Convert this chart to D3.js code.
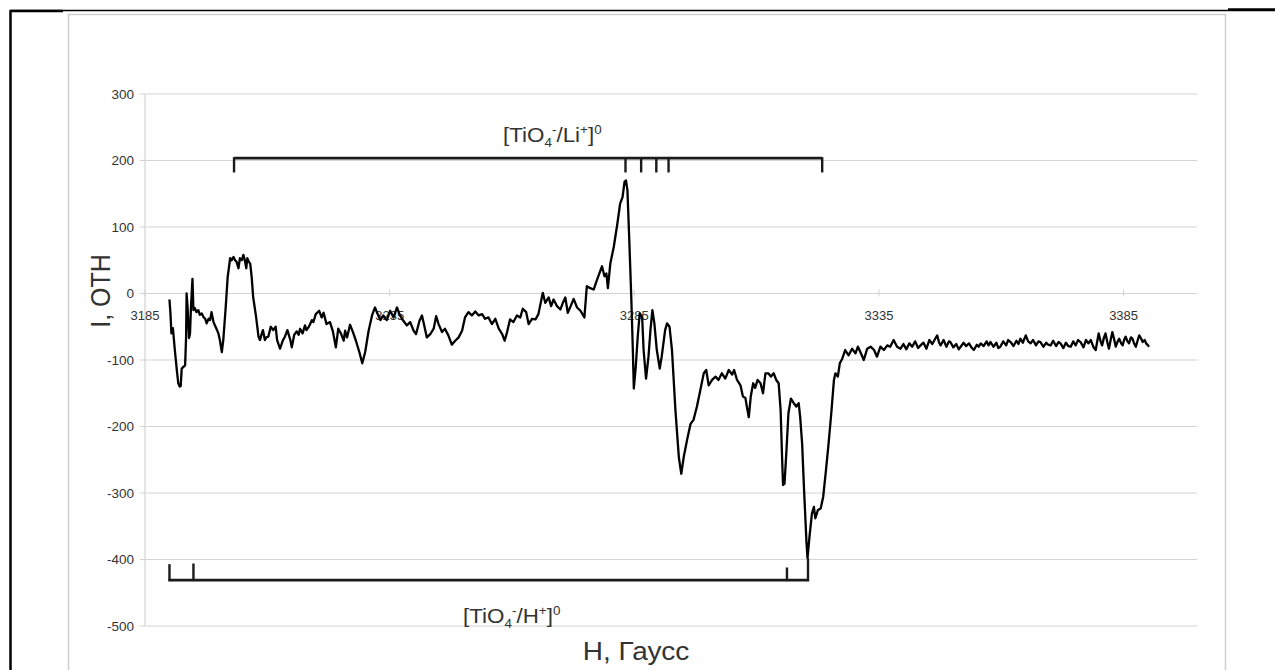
<!DOCTYPE html>
<html><head><meta charset="utf-8">
<script src="https://cdn.jsdelivr.net/npm/d3@7"></script>
<style>
html,body{margin:0;padding:0;background:#fff;}
svg{display:block;font-family:Arial,"Liberation Sans",sans-serif;}
</style></head><body>
<svg id="c" width="1275" height="670"></svg>
<script>
// ---- data ----
const xTicks = [3185, 3235, 3285, 3335, 3385];
const yTicks = [300, 200, 100, 0, -100, -200, -300, -400, -500];
const xTitle = "Н, Гаусс";
const yTitle = "I, ОТН";
// [TiO4-/Li+]0 bracket line positions (H, Gauss)
const liLines = [3203.2, 3283.2, 3286.4, 3289.5, 3292.0, 3323.4];
// [TiO4-/H+]0 bracket line positions (H, Gauss)
const hLines = [3190.0, 3194.9, 3316.2, 3320.5];
const hTickTops = [-407, -406, -412, -398];
// EPR spectrum: [H, I]
const spectrum = [
[3190.0,-9],[3190.2,-30],[3190.4,-60],[3190.7,-52],[3191.1,-85],[3191.5,-115],[3191.8,-135],[3192.1,-140],[3192.3,-139],[3192.5,-113],[3192.9,-110],[3193.2,-108],[3193.4,-65],[3193.5,0],[3193.7,-20],[3194.0,-67],[3194.2,-60],[3194.4,-20],[3194.7,22],[3194.9,-25],[3195.2,-22],[3195.5,-28],[3195.9,-25],[3196.2,-32],[3196.6,-30],[3197.0,-36],[3197.3,-38],[3197.6,-45],[3198.0,-38],[3198.3,-40],[3198.6,-28],[3199.0,-43],[3199.3,-48],[3199.6,-53],[3200.0,-60],[3200.3,-70],[3200.7,-88],[3201.0,-70],[3201.5,-20],[3201.9,25],[3202.4,53],[3202.7,50],[3203.1,55],[3203.4,50],[3203.7,48],[3204.1,38],[3204.4,53],[3204.8,50],[3205.1,58],[3205.4,50],[3205.7,38],[3205.9,53],[3206.2,48],[3206.5,45],[3206.8,25],[3207.1,-5],[3207.7,-35],[3208.2,-65],[3208.5,-70],[3208.8,-62],[3209.1,-55],[3209.5,-70],[3209.8,-66],[3210.2,-65],[3210.7,-50],[3211.2,-55],[3211.7,-50],[3212.0,-70],[3212.6,-83],[3213.2,-70],[3213.6,-65],[3214.1,-55],[3214.7,-70],[3215.0,-81],[3215.5,-62],[3216.0,-57],[3216.4,-62],[3216.7,-53],[3217.2,-60],[3217.7,-48],[3218.0,-55],[3218.4,-51],[3218.8,-45],[3219.1,-40],[3219.4,-43],[3219.9,-31],[3220.6,-26],[3221.1,-36],[3221.5,-29],[3222.1,-46],[3222.8,-43],[3223.4,-57],[3224.0,-81],[3224.5,-53],[3225.1,-61],[3225.6,-71],[3225.9,-56],[3226.3,-66],[3226.9,-47],[3227.5,-58],[3228.1,-71],[3228.8,-88],[3229.4,-105],[3230.0,-88],[3230.7,-56],[3231.4,-33],[3232.0,-21],[3232.5,-30],[3233.1,-40],[3233.7,-33],[3234.4,-40],[3235.1,-26],[3235.8,-36],[3236.5,-21],[3237.1,-33],[3237.8,-41],[3238.5,-48],[3239.2,-43],[3239.9,-56],[3240.4,-61],[3241.1,-41],[3241.6,-33],[3242.0,-46],[3242.6,-66],[3243.3,-61],[3244.0,-53],[3244.5,-34],[3245.0,-46],[3245.7,-58],[3246.3,-53],[3247.0,-63],[3247.7,-77],[3248.4,-71],[3249.1,-66],[3249.8,-56],[3250.4,-36],[3251.1,-28],[3251.8,-33],[3252.5,-27],[3253.2,-33],[3253.9,-31],[3254.5,-38],[3255.2,-36],[3255.9,-46],[3256.6,-38],[3257.3,-53],[3258.0,-61],[3258.5,-71],[3259.0,-58],[3259.6,-39],[3260.3,-43],[3261.0,-33],[3261.7,-36],[3262.2,-23],[3262.9,-28],[3263.4,-46],[3264.1,-38],[3264.8,-39],[3265.4,-31],[3266.3,1],[3266.8,-14],[3267.5,-6],[3268.0,-19],[3268.5,-9],[3269.2,-19],[3269.9,-24],[3270.4,-14],[3270.9,-6],[3271.4,-29],[3272.0,-19],[3272.6,-8],[3273.3,-21],[3274.0,-26],[3274.8,-36],[3275.3,11],[3276.0,8],[3276.7,6],[3277.3,19],[3277.9,31],[3278.4,41],[3278.9,26],[3279.3,30],[3279.6,8],
[3280.1,45],[3280.8,70],[3281.5,103],[3282.1,135],[3282.6,145],[3283.0,168],[3283.3,170],[3283.6,155],[3284.0,75],[3284.4,-10],[3284.7,-85],[3284.9,-143],[3285.3,-110],[3285.7,-65],[3286.1,-30],[3286.6,-35],[3286.9,-85],[3287.4,-128],[3287.9,-95],[3288.3,-55],[3288.7,-25],[3289.1,-45],[3289.6,-85],[3290.2,-113],[3290.6,-95],[3291.3,-55],[3291.7,-45],[3292.2,-50],[3292.7,-85],[3293.4,-175],[3294.1,-246],[3294.6,-271],[3295.1,-246],[3295.9,-216],[3296.5,-196],[3297.1,-190],[3297.8,-170],[3298.5,-145],[3299.2,-120],[3299.7,-115],[3300.2,-138],[3300.9,-130],[3301.6,-125],[3302.2,-130],[3302.9,-120],[3303.6,-128],[3304.3,-115],[3305.0,-122],[3305.4,-115],[3306.0,-130],[3306.7,-138],[3307.2,-155],[3307.7,-157],[3308.0,-170],[3308.4,-186],[3308.8,-155],[3309.3,-135],[3309.7,-142],[3310.2,-130],[3310.8,-135],[3311.3,-150],[3311.8,-120],[3312.4,-120],[3312.9,-125],[3313.5,-120],[3314.0,-130],[3314.5,-135],[3314.9,-175],[3315.2,-246],[3315.4,-288],[3315.7,-286],[3316.1,-236],[3316.5,-180],[3317.0,-158],[3317.6,-165],[3318.1,-170],[3318.6,-165],[3318.9,-186],[3319.3,-226],[3319.7,-296],[3320.2,-376],[3320.4,-398],[3320.8,-366],[3321.3,-331],[3321.7,-321],[3322.0,-338],[3322.5,-326],[3323.1,-323],[3323.6,-306],[3324.1,-271],[3324.7,-226],[3325.3,-176],[3325.8,-130],[3326.1,-120],[3326.6,-125],[3327.0,-105],[3327.5,-98],[3328.1,-85],[3328.8,-93],[3329.5,-83],[3330.2,-90],[3330.7,-80],[3331.2,-88],[3331.9,-100],[3332.6,-83],[3333.3,-80],[3334.0,-85],[3334.6,-95],[3335.3,-80],[3336.0,-85],[3336.7,-78],[3337.3,-80],[3338.0,-70],[3338.7,-80],[3339.4,-83],
[3340.0,-76],[3340.6,-84],[3341.2,-75],[3341.8,-80],[3342.4,-72],[3343.0,-82],[3343.5,-78],[3344.1,-74],[3344.7,-83],[3345.3,-70],[3345.9,-76],[3346.5,-68],[3346.9,-63],[3347.3,-74],[3347.6,-78],[3348.2,-70],[3348.8,-80],[3349.3,-72],[3349.6,-73],[3350.2,-81],[3350.8,-76],[3351.3,-84],[3351.7,-80],[3352.3,-74],[3352.8,-79],[3353.4,-75],[3354.0,-82],[3354.4,-85],[3355.0,-77],[3355.4,-80],[3355.8,-75],[3356.4,-79],[3357.0,-72],[3357.4,-78],[3357.8,-73],[3358.4,-80],[3359.0,-74],[3359.4,-82],[3359.8,-80],[3360.4,-72],[3361.0,-78],[3361.4,-70],[3361.9,-73],[3362.5,-79],[3363.1,-71],[3363.5,-76],[3363.9,-68],[3364.4,-74],[3365.0,-63],[3365.5,-72],[3366.0,-75],[3366.5,-70],[3367.1,-78],[3367.6,-72],[3368.0,-73],[3368.6,-80],[3369.2,-74],[3369.6,-77],[3370.1,-78],[3370.6,-71],[3371.2,-79],[3371.7,-73],[3372.1,-75],[3372.7,-82],[3373.2,-74],[3373.7,-79],[3374.2,-80],[3374.7,-72],[3375.2,-78],[3375.7,-70],[3376.2,-73],[3376.8,-81],[3377.3,-70],[3377.8,-75],[3378.3,-70],[3378.8,-80],[3379.3,-85],[3379.9,-60],[3380.3,-72],[3380.6,-78],[3381.0,-66],[3381.3,-60],[3381.7,-74],[3382.0,-83],[3382.4,-68],[3382.7,-58],[3383.1,-70],[3383.4,-80],[3383.8,-72],[3384.1,-68],[3384.5,-75],[3384.8,-78],[3385.1,-70],[3385.4,-65],[3385.8,-72],[3386.1,-75],[3386.5,-66],[3386.8,-68],[3387.2,-76],[3387.5,-80],[3387.9,-70],[3388.2,-63],[3388.6,-68],[3388.9,-73],[3389.3,-70],[3389.6,-75],[3390.0,-78],[3390.2,-80]
];

// ---- drawing ----
const svg = d3.select("#c");
const x = d3.scaleLinear().domain([3185, 3400]).range([145, 1197]);
const y = d3.scaleLinear().domain([-500, 300]).range([626, 94]);
const gridC = "#d3d3d3", txtC = "#333", inkC = "#1a1a1a";

// outer page lines (table cell)
svg.append("line").attr("x1",10).attr("x2",1275).attr("y1",10.5).attr("y2",10.5).attr("stroke","#000").attr("stroke-width",1.5);
svg.append("line").attr("x1",10).attr("x2",63).attr("y1",11).attr("y2",11).attr("stroke","#000").attr("stroke-width",2.5);
svg.append("line").attr("x1",1228).attr("x2",1275).attr("y1",9.5).attr("y2",9.5).attr("stroke","#000").attr("stroke-width",2.5);
svg.append("line").attr("x1",10.5).attr("x2",10.5).attr("y1",10).attr("y2",670).attr("stroke","#000").attr("stroke-width",2.5);
// chart frame
svg.append("rect").attr("x",68.5).attr("y",14.5).attr("width",1157).attr("height",700).attr("fill","none").attr("stroke","#cfcfcf").attr("stroke-width",1.5);

// gridlines
svg.append("g").selectAll("line").data(yTicks).join("line")
  .attr("x1",140).attr("x2",1197).attr("y1",d=>y(d)).attr("y2",d=>y(d))
  .attr("stroke",gridC).attr("stroke-width",1.2);
// y axis line
svg.append("line").attr("x1",145).attr("x2",145).attr("y1",y(300)).attr("y2",y(-500)).attr("stroke",gridC).attr("stroke-width",1.2);
// x ticks (on zero line)
svg.append("g").selectAll("line").data(xTicks).join("line")
  .attr("x1",d=>x(d)).attr("x2",d=>x(d)).attr("y1",y(0)-4).attr("y2",y(0)+3)
  .attr("stroke",gridC).attr("stroke-width",1);

// y tick labels
svg.append("g").selectAll("text").data(yTicks).join("text")
  .attr("x",134).attr("y",d=>y(d)).attr("dy","0.35em").attr("text-anchor","end")
  .attr("font-size",13.5).attr("fill",txtC).text(d=>d);
// x tick labels
svg.append("g").selectAll("text").data(xTicks).join("text")
  .attr("x",d=>x(d)).attr("y",y(0)+26).attr("text-anchor","middle")
  .attr("font-size",13).attr("fill",txtC).text(d=>d);

// spectrum line
const line = d3.line().x(d=>x(d[0])).y(d=>y(d[1]));
svg.append("path").datum(spectrum).attr("d",line).attr("fill","none")
  .attr("stroke","#000").attr("stroke-width",2.3).attr("stroke-linejoin","round");

// Li bracket (top)
const liBar = 203.5, liEnd = 182;
svg.append("line").attr("x1",x(liLines[0])).attr("x2",x(liLines[liLines.length-1]))
  .attr("y1",y(liBar)).attr("y2",y(liBar)).attr("stroke",inkC).attr("stroke-width",2.6);
svg.append("g").selectAll("line").data(liLines).join("line")
  .attr("x1",d=>x(d)).attr("x2",d=>x(d)).attr("y1",y(liBar)-1).attr("y2",y(liEnd))
  .attr("stroke",inkC).attr("stroke-width",2.4);

// H bracket (bottom)
const hBar = -431;
svg.append("line").attr("x1",x(hLines[0])-1).attr("x2",x(hLines[hLines.length-1])+1)
  .attr("y1",y(hBar)).attr("y2",y(hBar)).attr("stroke",inkC).attr("stroke-width",2.6);
svg.append("g").selectAll("line").data(hLines).join("line")
  .attr("x1",d=>x(d)).attr("x2",d=>x(d)).attr("y1",y(hBar)+1).attr("y2",(d,i)=>y(hTickTops[i]))
  .attr("stroke",inkC).attr("stroke-width",2.4);

// formula labels
function formula(g, cation){
  const t = g.append("text").attr("font-size",20).attr("fill",txtC);
  t.append("tspan").text("[TiO");
  t.append("tspan").attr("font-size",12).attr("dy",5).text("4");
  t.append("tspan").attr("font-size",12).attr("dy",-13).text("-");
  t.append("tspan").attr("dy",8).text("/" + cation);
  t.append("tspan").attr("font-size",12).attr("dy",-8).text("+");
  t.append("tspan").attr("dy",8).text("]");
  t.append("tspan").attr("font-size",12).attr("dy",-8).text("0");
}
formula(svg.append("g").attr("transform","translate(503,142) scale(1.12,1)"), "Li");
formula(svg.append("g").attr("transform","translate(463,623) scale(1.12,1)"), "H");

// axis titles
svg.append("text").attr("transform","translate(636,660) scale(1.12,1)")
  .attr("text-anchor","middle").attr("font-size",25).attr("fill",txtC).text(xTitle);
svg.append("text").attr("transform","translate(110,291) rotate(-90) scale(1,1.12)")
  .attr("text-anchor","middle").attr("font-size",25).attr("fill",txtC).text(yTitle);
</script>
</body></html>
